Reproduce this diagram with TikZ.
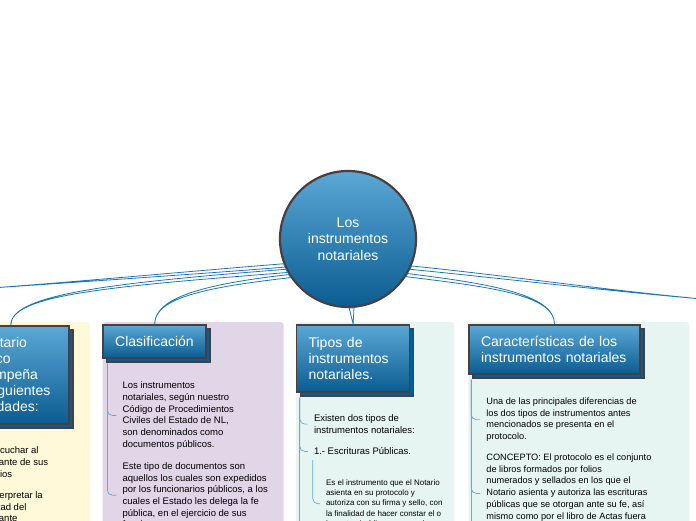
\documentclass[tikz,border=0pt]{standalone}
\usepackage{fontspec}
\setmainfont{Liberation Sans}
\usetikzlibrary{positioning,shadows,calc}
\definecolor{HdTop}{HTML}{5BA8D6}
\definecolor{HdBot}{HTML}{0B5C91}
\definecolor{Edge}{HTML}{4A3F3F}
\definecolor{LinkBlue}{HTML}{1C78B4}
\definecolor{BrLine}{HTML}{6AA6D6}
\definecolor{BgYel}{HTML}{FFF8D9}
\definecolor{BgLav}{HTML}{E1D5E8}
\definecolor{BgMint}{HTML}{E7F5F2}
\tikzset{
  hubC/.style={circle,minimum size=136pt,inner sep=0pt,draw=Edge,line width=2.2pt,
               top color=HdTop,bottom color=HdBot,text=white,align=center,
               font=\fontsize{14}{16.5}\selectfont},
  hd/.style={rectangle,draw=Edge,line width=1.6pt,top color=HdTop,bottom color=HdBot,
             text=white,align=left,inner xsep=12pt,inner ysep=0pt,
             font=\fontsize{14}{16}\selectfont,
             general shadow={shadow xshift=4pt,shadow yshift=-4pt,fill=HdBot,draw=Edge,line width=1.6pt}},
  bgY/.style={rectangle,rounded corners=3pt,fill=BgYel,minimum height=260pt,anchor=north west,inner sep=0pt},
  bgL/.style={bgY,fill=BgLav},
  bgM/.style={bgY,fill=BgMint},
  txt/.style={align=left,inner xsep=6pt,inner ysep=2pt,font=\fontsize{9.5}{11.7}\selectfont},
  tsm/.style={txt,font=\fontsize{8}{10.3}\selectfont},
  tcr/.style={txt,font=\fontsize{9.2}{11.7}\selectfont},
  link/.style={draw=LinkBlue,fill=white,line width=0.8pt},
  brn/.style={draw=BrLine,line width=0.7pt,rounded corners=5pt}
}
\begin{document}
\begin{tikzpicture}[x=1pt,y=-1pt,every node/.style={align=center}]
  \useasboundingbox (0,0) rectangle (696,520);
  \clip (0,0) rectangle (696,520);

  % panels
  \node[bgY,minimum width=210pt] (actBg) at (-120,322) {};
  \node[bgL,minimum width=181pt,right=12pt of actBg] (clsBg) {};
  \node[bgM,minimum width=158pt,right=12pt of clsBg] (tipBg) {};
  \node[bgM,minimum width=221pt,right=14pt of tipBg] (carBg) {};

  % central node
  \node[hubC] (hub) at (348,239) {Los\\instrumentos\\notariales};

  % headers
  \node[hd,text width=92pt,minimum height=98pt,below right=3pt and 72pt of actBg.north west] (actHd)
    {El Notario\\Público\\desempeña\\las siguientes\\actividades:};
  \node[hd,text width=79pt,minimum height=33pt,below right=2pt and 0pt of clsBg.north west] (clsHd)
    {Clasificación};
  \node[hd,text width=89pt,minimum height=67pt,below right=2pt and 0pt of tipBg.north west] (tipHd)
    {Tipos de\\instrumentos\\notariales.};
  \node[hd,text width=147pt,minimum height=49pt,below right=2pt and 0pt of carBg.north west] (carHd)
    {Características de los\\instrumentos notariales};

  % texts
  \node[txt,below right=20pt and 17pt of actHd.south west] (actTx1)
    {1.- Escuchar al\\solicitante de sus\\servicios};
  \node[txt,below right=10pt and 0pt of actTx1.south west] (actTx2)
    {2.- Interpretar la\\voluntad del\\solicitante};

  \node[txt,below right=21pt and 14pt of clsHd.south west] (clsTx1)
    {Los instrumentos\\notariales, según nuestro\\Código de Procedimientos\\Civiles del Estado de NL,\\son denominados como\\documentos públicos.};
  \node[txt,below right=9pt and 0pt of clsTx1.south west] (clsTx2)
    {Este tipo de documentos son\\aquellos los cuales son expedidos\\por los funcionarios públicos, a los\\cuales el Estado les delega la fe\\pública, en el ejercicio de sus\\funciones.};

  \node[txt,below right=20pt and 12pt of tipHd.south west] (tipTx1)
    {Existen dos tipos de\\instrumentos notariales:};
  \node[txt,below right=10pt and 0pt of tipTx1.south west] (tipTx2)
    {1.- Escrituras Públicas.};
  \node[tsm,below right=20pt and 12pt of tipTx2.south west] (tipTx3)
    {Es el instrumento que el Notario\\asienta en su protocolo y\\autoriza con su firma y sello, con\\la finalidad de hacer constar el o\\los actos jurídicos que en el};

  \node[tcr,below right=21pt and 12pt of carHd.south west] (carTx1)
    {Una de las principales diferencias de\\los dos tipos de instrumentos antes\\mencionados se presenta en el\\protocolo.};
  \node[tcr,below right=8pt and 0pt of carTx1.south west] (carTx2)
    {CONCEPTO: El protocolo es el conjunto\\de libros formados por folios\\numerados y sellados en los que el\\Notario asienta y autoriza las escrituras\\públicas que se otorgan ante su fe, así\\mismo como por el libro de Actas fuera};

  % connectors from the centre
  \coordinate (offW) at (-30,289.5);
  \coordinate (offE) at (726,301);
  \draw[link] (hub.201) .. controls +(-100,8) and +(100,-7) .. (offW)
    .. controls +(100,-7) and +(-100,8) .. (hub.204) -- cycle;
  \draw[link] (hub.206) .. controls +(-180,14) and +(0,-30) .. (actHd.north)
    .. controls +(0,-30) and +(-180,14) .. (hub.209) -- cycle;
  \draw[link] (hub.211) .. controls +(-90,10) and +(0,-25) .. (clsHd.north)
    .. controls +(0,-25) and +(-90,10) .. (hub.214) -- cycle;
  \draw[link] (hub.271) -- (tipHd.north) -- (hub.275) -- cycle;
  \draw[link] (hub.327) .. controls +(80,10) and +(0,-30) .. (carHd.north)
    .. controls +(0,-30) and +(80,10) .. (hub.330) -- cycle;
  \draw[link] (hub.334) .. controls +(100,10) and +(-100,-8) .. (offE)
    .. controls +(-100,-8) and +(100,10) .. (hub.337) -- cycle;

  % branches
  \draw[brn] ([shift={(5,5)}]clsHd.south west) |- (clsTx1.west);
  \draw[brn] ([shift={(5,5)}]clsHd.south west) |- (clsTx2.west);

  \draw[brn] ([shift={(4,5)}]tipHd.south west) -- ++(0,160);
  \draw[brn] ([shift={(4,5)}]tipHd.south west) |- (tipTx1.west);
  \draw[brn] ([shift={(4,5)}]tipHd.south west) |- (tipTx2.west);
  \draw[brn] ([shift={(5,3)}]tipTx2.south west) |- (tipTx3.west);

  \draw[brn] ([shift={(3,5)}]carHd.south west) -- ++(0,160);
  \draw[brn] ([shift={(3,5)}]carHd.south west) |- (carTx1.west);
  \draw[brn] ([shift={(3,5)}]carHd.south west) |- ([yshift=-6pt]carTx2.west);
\end{tikzpicture}
\end{document}
